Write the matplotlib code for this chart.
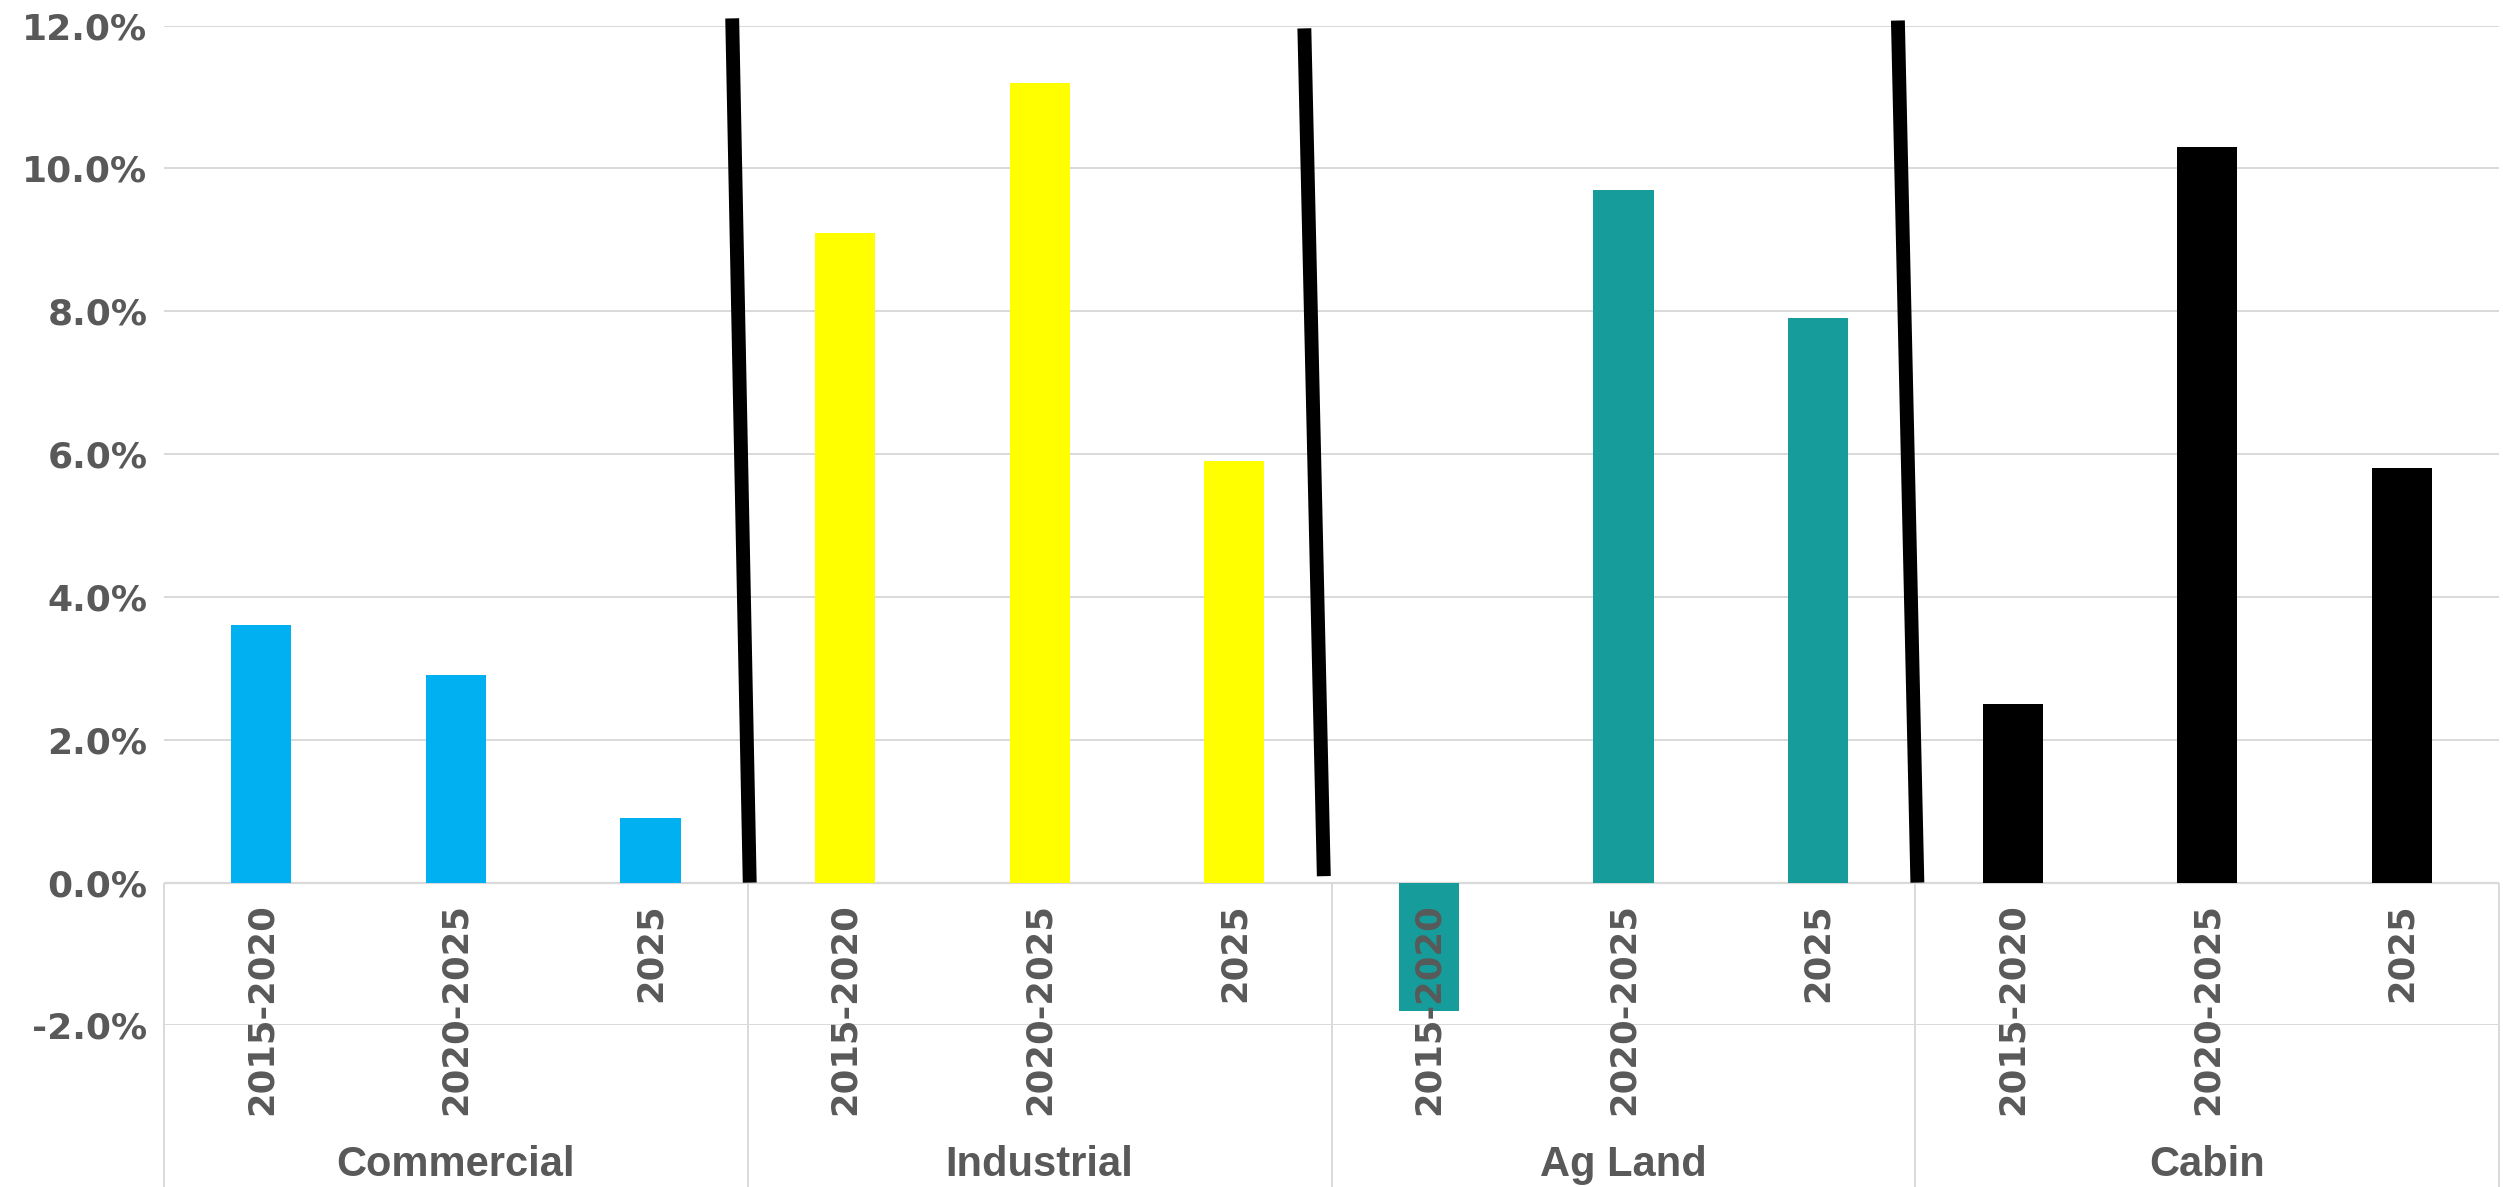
import matplotlib
matplotlib.use("Agg")
import matplotlib.pyplot as plt  # noqa: E402
from matplotlib.ticker import PercentFormatter  # noqa: E402
from matplotlib.transforms import blended_transform_factory  # noqa: E402

plt.rcParams["axes.unicode_minus"] = False

# data
groups = ["Commercial", "Industrial", "Ag Land", "Cabin"]
periods = ["2015-2020", "2020-2025", "2025"]
values = {
    "Commercial": [0.036, 0.029, 0.009],
    "Industrial": [0.091, 0.112, 0.059],
    "Ag Land": [-0.018, 0.097, 0.079],
    "Cabin": [0.025, 0.103, 0.058],
}
group_colors = ["#00B0F0", "#FFFF00", "#169C9B", "#000000"]
y_ticks = [-0.02, 0.0, 0.02, 0.04, 0.06, 0.08, 0.10, 0.12]

# hand-drawn separator strokes (x in category slots, y in value units)
sep_top_x = [2.42, 5.36, 8.41]
sep_top_y = [0.1210, 0.1196, 0.1207]
sep_bot_x = [2.51, 5.46, 8.51]
sep_bot_y = [0.0, 0.0009, 0.0]

GREY = "#595959"
GRID = "#D9D9D9"

fig = plt.figure(figsize=(25.03, 11.87), dpi=100)
ax = fig.add_axes([0.0655, 0.1361, 0.933, 0.8424])

n_per = len(periods)
for g, (name, col) in enumerate(zip(groups, group_colors)):
    xs = [g * n_per + i for i in range(n_per)]
    ax.bar(xs, values[name], width=0.31, color=col, zorder=2)

ax.set_xlim(-0.5, len(groups) * n_per - 0.5)
ax.set_ylim(-0.02, 0.12)
ax.set_yticks(y_ticks)
ax.yaxis.set_major_formatter(PercentFormatter(xmax=1, decimals=1))
ax.tick_params(axis="y", length=0, pad=12, labelsize=26, labelcolor=GREY)
for lab in ax.get_yticklabels():
    lab.set_fontweight("bold")
ax.set_xticks([])
ax.grid(axis="y", color=GRID, linewidth=1.4, zorder=0)
ax.set_axisbelow(True)
for s in ax.spines.values():
    s.set_visible(False)

# category axis line and boxes
ax.axhline(0, color=GRID, linewidth=1.6, zorder=1)
bounds = [g * n_per - 0.5 for g in range(len(groups) + 1)]
ax.vlines(bounds, -0.05, 0, colors=GRID, linewidth=1.4, clip_on=False, zorder=1)

# period labels
for g in range(len(groups)):
    for i, p in enumerate(periods):
        ax.annotate(p, xy=(g * n_per + i, 0), xytext=(0, -15),
                    textcoords="offset points", rotation=90,
                    ha="center", va="top", fontsize=25.5, fontweight="bold",
                    color=GREY, zorder=4, annotation_clip=False)

# group labels
trans = blended_transform_factory(ax.transData, fig.transFigure)
for g, name in enumerate(groups):
    ax.text(g * n_per + (n_per - 1) / 2, 0.0185, name, transform=trans,
            ha="center", va="center", fontsize=30, fontweight="bold",
            family=["Liberation Sans", "DejaVu Sans"], color=GREY)

# black separator strokes
for x0, y0, x1, y1 in zip(sep_bot_x, sep_bot_y, sep_top_x, sep_top_y):
    ax.plot([x0, x1], [y0, y1], color="black", linewidth=10,
            solid_capstyle="butt", clip_on=False, zorder=3)

fig.savefig("out.png", dpi=100)
plt.close(fig)
